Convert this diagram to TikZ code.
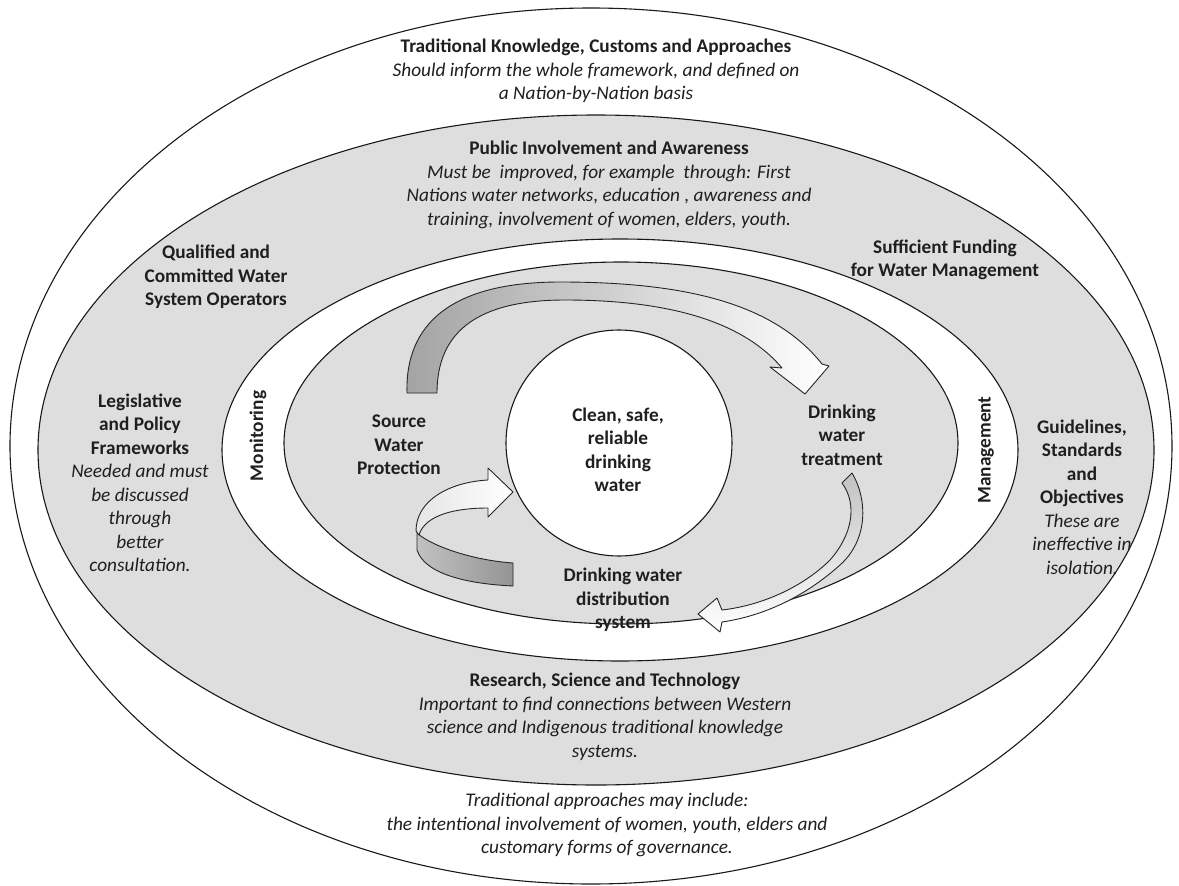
\documentclass[tikz,border=0pt]{standalone}
\usepackage{fontspec}
\setmainfont{Carlito}
\begin{document}
\begin{tikzpicture}[x=1pt,y=-1pt,
  lbl/.style={align=center, inner sep=0pt, text=black!88, font=\fontsize{19.3}{23.5}\selectfont},
  bl/.style={lbl, font=\fontsize{19.3}{23.5}\selectfont\bfseries},
  band/.style={draw=black!85, line width=0.9pt, line join=round},
  ring/.style={draw=black!90, line width=1.1pt}]
\useasboundingbox (0,0) rectangle (1179,886);
\fill[white] (0,0) rectangle (1179,886);
% layers
\draw[ring, fill=white] (591,446) ellipse [x radius=581pt, y radius=438pt];
\draw[ring, fill=black!13] (596,450) ellipse [x radius=558pt, y radius=335pt];
\draw[ring, fill=white] (620,450) ellipse [x radius=398pt, y radius=211pt];
\draw[ring, fill=black!13] (621,443) ellipse [x radius=337pt, y radius=181pt];
% top curved arrow
\draw[band, left color=black!36, middle color=black!16, right color=white]
  (407,393) .. controls (405,325) and (450,282) .. (560,282)
  .. controls (690,282) and (775,305) .. (822,364)
  -- (829,366) -- (805,394) -- (770,367) -- (782,368)
  .. controls (740,318) and (660,300) .. (565,300)
  .. controls (480,300) and (437,330) .. (437,393) -- cycle;
% curled arrow (lower left)
\draw[band, left color=black!24, right color=black!42]
  (417,533) .. controls (430,545) and (470,560) .. (513,563) -- (513,586)
  .. controls (470,584) and (425,575) .. (417,550) -- cycle;
\draw[band, left color=black!10, right color=white]
  (416,531) .. controls (416,500) and (450,482) .. (488,480) -- (488,468)
  -- (513,492) -- (488,517) -- (488,508)
  .. controls (455,508) and (425,515) .. (419,535) -- cycle;
% right thin arrow
\draw[band, top color=black!24, bottom color=white]
  (842,483) -- (852,473) .. controls (868,500) and (868,540) .. (840,565)
  .. controls (810,592) and (770,615) .. (722,622) -- (720,632) -- (698,614)
  -- (717,598) -- (722,610) .. controls (765,605) and (805,585) .. (830,560)
  .. controls (852,535) and (858,505) .. (842,483) -- cycle;
% centre
\node[circle, draw=black!90, line width=1.1pt, fill=white, minimum size=226pt, inner sep=0pt] (core) at (619,443) {};
\node[bl] (coretext) at (618,450) {Clean, safe,\\reliable\\drinking\\water};
% texts
\node[lbl] (tk) at (596,71) {\textbf{Traditional Knowledge, Customs and Approaches}\\\textit{Should inform the whole framework, and defined on}\\\textit{a Nation-by-Nation basis}};
\node[lbl] (pia) at (609,185) {\textbf{Public Involvement and Awareness}\\\textit{Must be\ \ improved, for example\ \ through: First}\\\textit{Nations water networks, education , awareness and}\\\textit{training, involvement of women, elders, youth.}};
\node[bl] (qual) at (216,277) {Qualified and\\Committed Water\\System Operators};
\node[bl] (suff) at (945,260) {Sufficient Funding\\for Water Management};
\node[lbl] (leg) at (140,483) {\textbf{Legislative}\\\textbf{and Policy}\\\textbf{Frameworks}\\\textit{Needed and must}\\\textit{be discussed}\\\textit{through}\\\textit{better}\\\textit{consultation.}};
\node[bl, rotate=90] (mon) at (258,436) {Monitoring};
\node[bl, rotate=90] (man) at (986,450) {Management};
\node[lbl] (guide) at (1082,497) {\textbf{Guidelines,}\\\textbf{Standards}\\\textbf{and}\\\textbf{Objectives}\\\textit{These are}\\\textit{ineffective in}\\\textit{isolation.}};
\node[bl] (swp) at (399,445) {Source\\Water\\Protection};
\node[bl] (dwt) at (842,435) {Drinking\\water\\treatment};
\node[bl] (dist) at (623,600) {Drinking water\\distribution\\system};
\node[lbl] (rst) at (605,717) {\textbf{Research, Science and Technology}\\\textit{Important to find connections between Western}\\\textit{science and Indigenous traditional knowledge}\\\textit{systems.}};
\node[lbl] (tapp) at (607,825) {\textit{Traditional approaches may include:}\\\textit{the intentional involvement of women, youth, elders and}\\\textit{customary forms of governance.}};
\end{tikzpicture}
\end{document}
